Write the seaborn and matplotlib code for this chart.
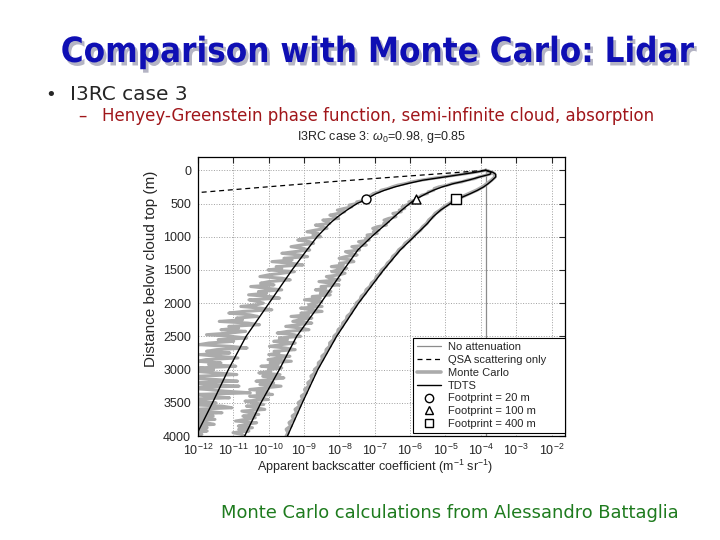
import numpy as np
import matplotlib
matplotlib.use("Agg")
import matplotlib.pyplot as plt
import matplotlib.patheffects as pe
from matplotlib.lines import Line2D
from matplotlib.ticker import LogLocator, LogFormatterSciNotation, NullLocator
import seaborn as sns

# depth below cloud top (m) where the TDTS curves were read
tdts_depth = [0, 30, 60, 100, 150, 200, 250, 300, 350, 400, 450, 500, 600, 700,
              800, 900, 1000, 1200, 1500, 2000, 2500, 3000, 3500, 4000]
# log10 of apparent backscatter (m^-1 sr^-1)
tdts_20m = [-3.86, -4.15, -4.52, -5.02, -5.65, -6.07, -6.43, -6.72, -6.96, -7.13, -7.29, -7.50,
            -7.79, -8.05, -8.27, -8.45, -8.63, -8.92, -9.34, -9.99, -10.64, -11.14, -11.59, -12.06]
tdts_100m = [-3.86, -3.71, -3.74, -4.03, -4.36, -4.77, -5.09, -5.34, -5.54, -5.72, -5.89, -6.01,
             -6.24, -6.45, -6.66, -6.88, -7.09, -7.48, -7.88, -8.53, -9.21, -9.70, -10.22, -10.68]
tdts_400m = [-3.86, -3.66, -3.58, -3.58, -3.68, -3.79, -3.92, -4.09, -4.29, -4.51, -4.71, -4.86,
             -5.14, -5.35, -5.51, -5.70, -5.89, -6.28, -6.75, -7.46, -8.08, -8.61, -9.05, -9.47]

# QSA scattering only (dashed) and no attenuation (vertical)
qsa_depth = [0, 50, 100, 175, 250, 340]
qsa_logb = [-3.86, -5.10, -6.40, -8.30, -10.05, -12.10]
noatt_depth = [0, 4000]
noatt_logb = [-3.86, -3.86]

# Monte Carlo, read every 25 m (20 m and 100 m footprints) and every 50 m (400 m)
mc_depth_25 = list(range(0, 4001, 25))
mc_depth_50 = list(range(0, 4001, 50))
mc_20m = [
    -3.86, -4.11, -4.41, -4.74, -5.07, -5.40, -5.70, -5.95, -6.13, -6.36,
    -6.51, -6.63, -6.82, -6.88, -7.04, -7.11, -7.19, -7.27, -7.26, -7.51,
    -7.52, -7.73, -7.65, -7.87, -8.06, -7.85, -8.04, -8.27, -8.11, -8.02,
    -8.47, -8.32, -8.27, -8.68, -8.49, -8.35, -8.68, -8.92, -8.60, -8.75,
    -8.53, -8.99, -9.18, -8.85, -8.73, -9.08, -9.37, -9.05, -8.84, -9.27,
    -9.63, -9.13, -8.90, -9.57, -9.34, -9.91, -9.36, -9.03, -9.79, -9.63,
    -10.02, -9.27, -9.62, -10.01, -10.25, -9.62, -9.39, -9.99, -10.23, -9.85,
    -10.51, -10.07, -9.63, -10.29, -10.06, -10.57, -9.97, -9.69, -10.56, -10.33,
    -10.15, -10.34, -10.79, -10.24, -9.91, -10.73, -11.13, -10.54, -10.31, -10.91,
    -10.74, -11.40, -10.59, -10.26, -11.13, -10.85, -11.35, -10.65, -11.10, -11.76,
    -11.06, -10.62, -11.43, -10.99, -11.69, -11.97, -11.10, -10.61, -11.47, -11.76,
    -11.10, -11.97, -11.42, -10.87, -11.78, -12.01, -11.35, -11.70, -10.93, -11.96,
    -11.56, -12.11, -11.50, -10.90, -11.97, -12.51, -11.49, -10.88, -12.16, -11.76,
    -10.84, -12.44, -11.73, -11.23, -10.52, -12.11, -11.71, -11.11, -12.49, -11.89,
    -11.49, -12.35, -11.32, -11.04, -12.21, -11.82, -11.32, -12.39, -11.57, -12.13,
    -11.52, -12.38, -11.77, -11.54, -12.35, -11.74, -12.18, -11.74, -12.34, -11.89,
    -12.06]
mc_100m = [
    -3.86, -3.71, -3.71, -3.86, -4.06, -4.17, -4.40, -4.54, -4.82, -4.95,
    -5.19, -5.32, -5.33, -5.49, -5.51, -5.68, -5.74, -5.85, -5.86, -6.04,
    -5.98, -6.12, -6.23, -6.15, -6.31, -6.25, -6.49, -6.44, -6.40, -6.61,
    -6.74, -6.61, -6.75, -6.67, -6.93, -7.06, -6.88, -7.04, -6.93, -7.22,
    -7.17, -7.26, -7.16, -7.46, -7.34, -7.24, -7.65, -7.54, -7.43, -7.83,
    -7.70, -7.50, -7.83, -8.01, -7.68, -7.59, -8.00, -7.89, -8.23, -7.79,
    -8.04, -8.22, -7.84, -8.02, -8.37, -8.26, -7.99, -8.58, -8.24, -8.01,
    -8.52, -8.39, -8.68, -8.24, -8.54, -8.26, -8.77, -8.54, -8.99, -8.50,
    -8.74, -8.87, -8.49, -9.10, -8.82, -8.49, -9.09, -8.87, -9.37, -8.78,
    -9.12, -9.32, -8.78, -9.18, -9.52, -9.09, -8.86, -9.47, -9.76, -9.28,
    -9.10, -9.70, -9.47, -9.86, -9.25, -9.65, -9.98, -9.53, -9.25, -9.85,
    -9.71, -10.00, -9.40, -9.73, -10.02, -9.36, -9.96, -9.73, -10.22, -9.63,
    -10.01, -9.94, -10.28, -9.68, -10.17, -9.57, -10.01, -10.36, -9.86, -10.25,
    -9.65, -10.10, -10.54, -10.04, -10.33, -9.89, -10.54, -10.25, -10.01, -10.67,
    -10.43, -10.14, -10.63, -10.35, -10.11, -10.76, -10.52, -10.28, -10.73, -10.38,
    -10.66, -10.94, -10.34, -10.63, -10.86, -10.46, -10.85, -10.56, -11.01, -10.77,
    -10.68]
mc_400m = [
    -3.86, -3.62, -3.60, -3.70, -3.82, -3.95, -4.12, -4.33, -4.53, -4.74,
    -4.88, -5.04, -5.15, -5.29, -5.36, -5.47, -5.53, -5.64, -5.71, -5.84,
    -5.92, -6.01, -6.14, -6.20, -6.32, -6.38, -6.49, -6.53, -6.64, -6.69,
    -6.80, -6.84, -6.95, -6.98, -7.09, -7.13, -7.24, -7.27, -7.38, -7.41,
    -7.52, -7.55, -7.64, -7.67, -7.78, -7.80, -7.90, -7.92, -8.03, -8.05,
    -8.15, -8.16, -8.27, -8.27, -8.37, -8.38, -8.49, -8.48, -8.59, -8.59,
    -8.70, -8.68, -8.80, -8.77, -8.89, -8.86, -8.98, -8.94, -9.07, -9.03,
    -9.16, -9.12, -9.25, -9.20, -9.33, -9.29, -9.42, -9.37, -9.50, -9.45,
    -9.50]

# footprint markers
fp_labels = ["Footprint = 20 m", "Footprint = 100 m", "Footprint = 400 m"]
fp_markers = ["o", "^", "s"]
fp_depth = [430, 430, 430]
fp_logb = [-7.24, -5.83, -4.69]

ytick_vals = list(range(0, 4001, 500))

sns.set_style("white")
plt.rcParams["font.family"] = ["Liberation Sans", "DejaVu Sans"]
plt.rcParams["mathtext.fontset"] = "custom"
plt.rcParams["mathtext.rm"] = "Liberation Sans"
plt.rcParams["mathtext.it"] = "Liberation Sans:italic"

fig = plt.figure(figsize=(7.2, 5.4), dpi=100)
ax = fig.add_axes([198 / 720, 1 - 436 / 540, 367 / 720, 279 / 540])

mc_grey = "#ababab"
def plot_line(depth, logb, **kw):
    sns.lineplot(x=10 ** np.asarray(logb, dtype=float), y=depth, sort=False,
                 estimator=None, ax=ax, **kw)

plot_line(noatt_depth, noatt_logb, color="#8c8c8c", linewidth=0.9)
plot_line(mc_depth_25, mc_20m, color=mc_grey, linewidth=2.2)
plot_line(mc_depth_25, mc_100m, color=mc_grey, linewidth=2.2)
plot_line(mc_depth_50, mc_400m, color=mc_grey, linewidth=2.6)
plot_line(qsa_depth, qsa_logb, color="black", linewidth=0.9, linestyle=(0, (4, 3)))
for vals in (tdts_20m, tdts_100m, tdts_400m):
    plot_line(tdts_depth, vals, color="black", linewidth=1.0)
for m, d, v in zip(fp_markers, fp_depth, fp_logb):
    sns.scatterplot(x=[10 ** v], y=[d], marker=m, s=42, facecolor="white",
                    edgecolor="black", linewidth=1.0, ax=ax, zorder=5)

ax.set_xscale("log")
ax.set_xlim(1e-12, 10 ** -1.62)
ax.set_ylim(4000, -200)
ax.xaxis.set_major_locator(LogLocator(base=10, numticks=15))
ax.xaxis.set_major_formatter(LogFormatterSciNotation())
ax.xaxis.set_minor_locator(NullLocator())
ax.set_yticks(ytick_vals)
ax.grid(True, which="major", color="#a0a0a0", linestyle=":", linewidth=0.7)
ax.tick_params(direction="in", top=True, right=True, length=4, labelsize=9,
               width=0.8)
ax.tick_params(axis="x", pad=5)
ax.tick_params(axis="y", pad=5)
for sp in ax.spines.values():
    sp.set_color("black")
    sp.set_linewidth(0.9)

ax.set_title(r"I3RC case 3: $\omega_0$=0.98, g=0.85", fontsize=9, pad=12)
ax.set_xlabel(r"Apparent backscatter coefficient (m$^{-1}$ sr$^{-1}$)", fontsize=9)
ax.set_ylabel("Distance below cloud top (m)", fontsize=11)
ax.xaxis.set_label_coords(0.482, -0.078)
ax.yaxis.set_label_coords(-0.108, 0.6)

handles = [
    Line2D([], [], color="#8c8c8c", linewidth=0.9),
    Line2D([], [], color="black", linewidth=0.9, linestyle=(0, (4, 3))),
    Line2D([], [], color=mc_grey, linewidth=2.6),
    Line2D([], [], color="black", linewidth=1.0),
] + [Line2D([], [], linestyle="none", marker=m, markersize=6, markerfacecolor="white",
            markeredgecolor="black") for m in fp_markers]
labels = ["No attenuation", "QSA scattering only", "Monte Carlo", "TDTS"] + fp_labels
x0 = (413 - 198) / 367
leg = ax.legend(handles, labels, loc="lower left", bbox_to_anchor=(x0, 0.011, 1 - x0, 0.33),
                mode="expand", borderaxespad=0, fontsize=8, frameon=True, fancybox=False,
                edgecolor="black", framealpha=1, labelspacing=0.25, borderpad=0.35,
                handlelength=2.2, handletextpad=0.6)
leg.get_frame().set_linewidth(0.8)

# slide text
title = "Comparison with Monte Carlo: Lidar"
head = fig.text(378 / 720, 1 - 62 / 540, title, color="#0f0fb4", ha="center",
                va="baseline", fontsize=30, fontweight="bold", family="DejaVu Sans",
                fontstretch="condensed")
head.set_path_effects([pe.SimplePatchShadow(offset=(2, -2.5), shadow_rgbFace="#b4b4c4",
                                            alpha=1.0), pe.Normal()])
fig.canvas.draw()
head.set_fontsize(30 * 632 / head.get_window_extent().width)

fig.text(45 / 720, 1 - 100 / 540, "\u2022", ha="left", va="baseline", fontsize=13,
         family=["DejaVu Sans"])
fig.text(70 / 720, 1 - 100 / 540, "I3RC case 3", ha="left", va="baseline", fontsize=14.5,
         family=["DejaVu Sans"])
fig.text(78 / 720, 1 - 121 / 540, "\u2013", ha="left", va="baseline", fontsize=12,
         color="#a0161a", family=["DejaVu Sans"])
fig.text(102 / 720, 1 - 121 / 540,
         "Henyey-Greenstein phase function, semi-infinite cloud, absorption",
         ha="left", va="baseline", fontsize=12, color="#a0161a", family=["DejaVu Sans"])
fig.text(221 / 720, 1 - 518 / 540, "Monte Carlo calculations from Alessandro Battaglia",
         ha="left", va="baseline", fontsize=12.9, color="#1e7b1e", family=["DejaVu Sans"])

fig.savefig("out.png", dpi=100, facecolor="white")
